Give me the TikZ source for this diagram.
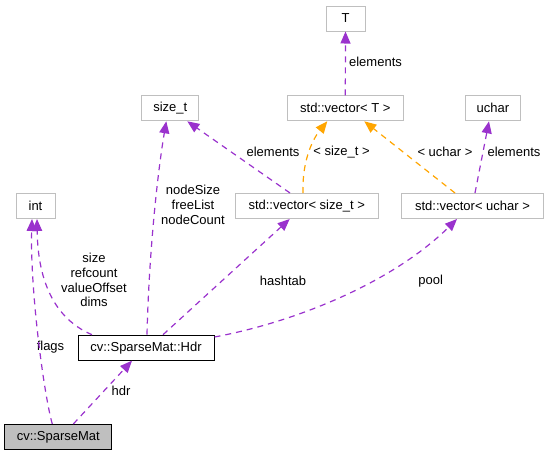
\documentclass[tikz,border=0pt]{standalone}
\usepackage{fontspec}
\setmainfont{Liberation Sans}
\usetikzlibrary{arrows.meta}
\definecolor{edgepurple}{HTML}{9A32CD}
\definecolor{edgeorange}{HTML}{FFA500}
\definecolor{boxgray}{HTML}{BFBFBF}
\begin{document}
\begin{tikzpicture}[x=1pt,y=-1pt,
  font=\fontsize{13}{14.7}\selectfont,
  box/.style={draw=boxgray, line width=1pt, fill=white, minimum height=25pt, inner sep=0pt},
  mainbox/.style={box, draw=black},
  curbox/.style={box, draw=black, fill=boxgray},
  rel/.style={draw=edgepurple, line width=1.2pt, dash pattern=on 6pt off 5pt, -{Triangle[length=12pt,width=10pt]}},
  tmpl/.style={rel, draw=edgeorange},
  lbl/.style={inner sep=0pt, align=center}]
\useasboundingbox (0,0) rectangle (547,456);
% nodes
\node[box, minimum width=39pt]  (T)    at (345.5,18.5) {T};
\node[box, minimum width=116pt] (vecT) at (345.3,108.3) {std::vector< T >};
\node[box, minimum width=57pt]  (sizet) at (170.3,108.3) {size\_t};
\node[box, minimum width=55pt]  (uchar) at (493,108.3) {uchar};
\node[box, minimum width=143pt] (vecs) at (306.7,206) {std::vector< size\_t >};
\node[box, minimum width=142pt] (vecu) at (472.5,206) {std::vector< uchar >};
\node[box, minimum width=39pt]  (int)  at (35.5,206) {int};
\node[mainbox, minimum width=136pt] (hdr) at (146,347.7) {cv::SparseMat::Hdr};
\node[curbox, minimum width=107pt] (sm) at (58.3,437) {cv::SparseMat};
% labels
\node[lbl] (lflags) at (50.5,347) {flags};
\node[lbl] (lhdr) at (121,391) {hdr};
\node[lbl] (lint) at (94,280) {size\\refcount\\valueOffset\\dims};
\node[lbl] (lsizet) at (193,205) {nodeSize\\freeList\\nodeCount};
\node[lbl] (lhash) at (283,281) {hashtab};
\node[lbl] (lpool) at (430.7,281) {pool};
\node[lbl] (lels) at (273,151.7) {elements};
\node[lbl] (ltsz) at (341.5,151.7) {< size\_t >};
\node[lbl] (ltuc) at (445,151.7) {< uchar >};
\node[lbl] (lelu) at (514,151.7) {elements};
\node[lbl] (lelT) at (375.5,62.3) {elements};
% edges
\draw[rel] ([xshift=-6pt]sm.north) .. controls (44,395) and (30,290) .. ([xshift=-3.5pt]int.south);
\draw[rel] ([xshift=15pt]sm.north) -- ([xshift=-14pt]hdr.south);
\draw[rel] ([xshift=-54pt]hdr.north) .. controls (62,322) and (38,292) .. ([xshift=1.5pt]int.south);
\draw[rel] ([xshift=1pt]hdr.north) .. controls (149,250) and (158,170) .. ([xshift=-4pt]sizet.south);
\draw[rel] ([xshift=17pt]hdr.north) -- ([xshift=-17pt]vecs.south);
\draw[rel] (hdr.east) ++(0,10.7pt) .. controls (295,322) and (392,283) .. ([xshift=-15.5pt]vecu.south);
\draw[rel] ([xshift=-16.7pt]vecs.north) -- ([xshift=17pt]sizet.south);
\draw[tmpl] ([xshift=-3.7pt]vecs.north) .. controls (302,162) and (312,140) .. ([xshift=-18pt]vecT.south);
\draw[tmpl] ([xshift=-17.5pt]vecu.north) -- ([xshift=19pt]vecT.south);
\draw[rel] ([xshift=2.5pt]vecu.north) -- ([xshift=-4pt]uchar.south);
\draw[rel] (vecT.north) -- (T.south);
\end{tikzpicture}
\end{document}
